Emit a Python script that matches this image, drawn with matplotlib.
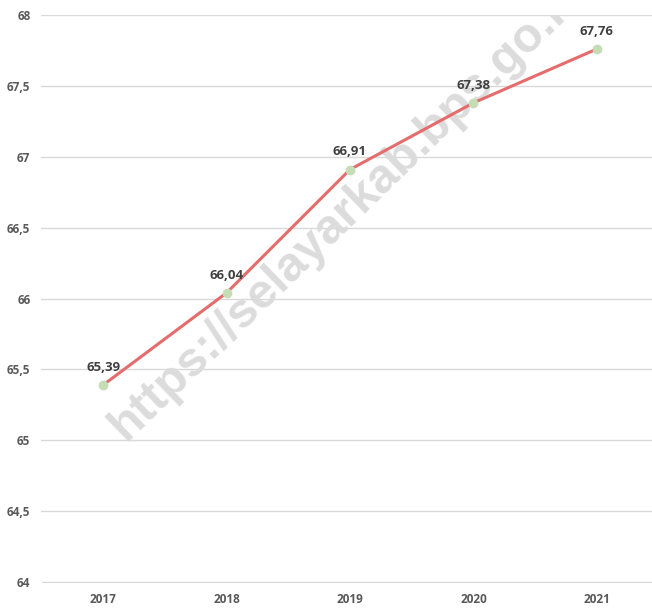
import matplotlib
matplotlib.use("Agg")
from matplotlib import pyplot as plt
from matplotlib.ticker import FuncFormatter

years = ["2017", "2018", "2019", "2020", "2021"]
values = [65.39, 66.04, 66.91, 67.38, 67.76]
y_ticks = [64, 64.5, 65, 65.5, 66, 66.5, 67, 67.5, 68]

plt.rcParams['font.family'] = ['Open Sans', 'DejaVu Sans']

fig = plt.figure(figsize=(6.52, 6.09), dpi=100)
ax = fig.add_axes([41.5 / 652, 1 - 582 / 609, 617 / 652, 567 / 609])

x = list(range(len(years)))
ax.plot(x, values, color="#E46C6C", linewidth=2.2, zorder=3,
        marker="o", markersize=6, markerfacecolor="#C5DDB5", markeredgecolor="#C5DDB5")

for xi, v in zip(x, values):
    ax.annotate(f"{v:.2f}".replace(".", ","), (xi, v), xytext=(0, 8),
                textcoords="offset points", ha="center", va="bottom",
                fontsize=9.5, fontweight="bold", color="#404040", zorder=4)

ax.set_xlim(-0.5, len(years) - 0.5)
ax.set_ylim(64, 68)
ax.set_xticks(x)
ax.set_xticklabels(years)
ax.set_yticks(y_ticks)
ax.yaxis.set_major_formatter(FuncFormatter(lambda v, p: f"{v:g}".replace(".", ",")))
ax.grid(axis="y", color="#D9D9D9", linewidth=1)
ax.set_axisbelow(True)
for s in ["top", "right", "left"]:
    ax.spines[s].set_visible(False)
ax.spines["bottom"].set_color("#D9D9D9")
ax.tick_params(length=0, labelsize=8.5, labelcolor="#595959", pad=8)
for lbl in ax.get_xticklabels() + ax.get_yticklabels():
    lbl.set_fontweight("bold")

# watermark, drawn under the line
ax.text(126 / 652, 1 - 442 / 609, "https://selayarkab.bps.go.id", rotation=44,
        rotation_mode="anchor", ha="left", va="baseline", transform=fig.transFigure,
        fontsize=35, fontweight="bold", family="Liberation Sans",
        color="#DCDCDC", zorder=2, clip_on=True)

fig.savefig("out.png", dpi=100)
